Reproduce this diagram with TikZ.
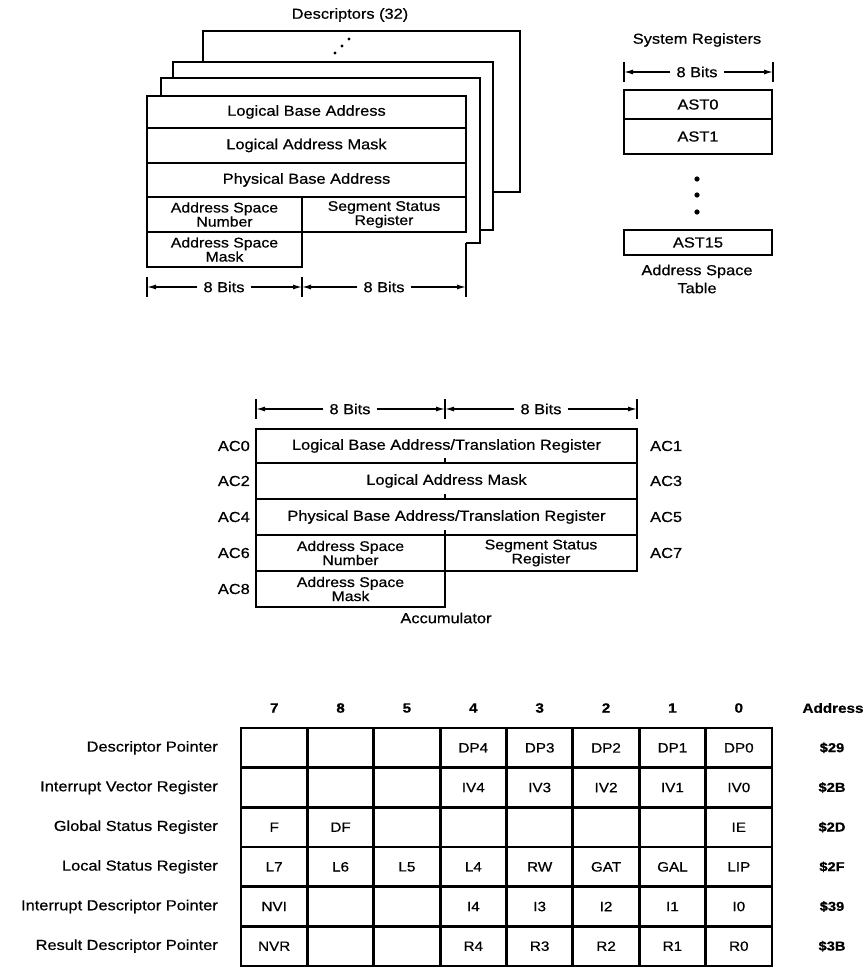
\documentclass[tikz,border=0pt]{standalone}
\usepackage{fontspec}
\setmainfont{Liberation Sans}[FakeStretch=1.13,FakeBold=0.6]
\usetikzlibrary{arrows.meta}
\newcommand\mylbl{\fontsize{14.5pt}{14pt}\selectfont}
\newcommand\mytwo{\fontsize{14pt}{12.5pt}\selectfont}
\newcommand\mycell{\fontsize{13.5pt}{14pt}\selectfont}
\newcommand\myhead{\fontsize{13.5pt}{14pt}\selectfont\bfseries}
\newcommand\myaddr{\fontsize{13pt}{14pt}\selectfont\bfseries}
\newcommand\tabrow[4]{%
  \node[rowlbl, anchor=east] (lbl#1) at (218,{728+39.67*(#1+0.5)}) {#2};
  \node[addr] (adr#1) at (832,{728+39.67*(#1+0.5)}) {#3};
  \foreach \t [count=\c from 0] in {#4} {
    \node[cell] (c#1-\c) at ({241+66.375*(\c+0.5)},{728+39.67*(#1+0.5)}) {\t};
  }%
}
\begin{document}
\begin{tikzpicture}[x=1pt,y=-1pt,
  box/.style={draw, line width=2.4pt, line join=miter},
  rbox/.style={draw, line width=2.4pt, inner sep=0pt, font=\mylbl, align=center},
  tbox/.style={draw, line width=2.4pt, inner sep=0pt, font=\mytwo, align=center},
  txt/.style={inner sep=0pt, font=\mylbl, align=center},
  dimtxt/.style={inner xsep=6pt, inner ysep=0pt, font=\mylbl},
  dimarrow/.style={line width=1.3pt, -{Latex[length=9pt,width=5pt]}},
  dimtick/.style={line width=1.6pt},
  cell/.style={draw, line width=2.8pt, minimum width=66.4pt, minimum height=39.7pt, inner sep=0pt, font=\mycell},
  rowlbl/.style={inner sep=0pt, font=\mylbl},
  addr/.style={inner sep=0pt, font=\myaddr},
  hd/.style={inner sep=0pt, font=\myhead},
]
\useasboundingbox (0,0) rectangle (865,968);

% ---------------- Descriptors stack ----------------
\node[txt] (desctitle) at (350,15) {Descriptors (32)};
\draw[box] (203,62) -- (203,31) -- (520,31) -- (520,192) -- (493,192);
\draw[box] (173,78) -- (173,62) -- (493,62) -- (493,230) -- (480,230);
\draw[box] (161,96) -- (161,78) -- (480,78) -- (480,243) -- (466,243);
\fill (335,53) circle (1.6) (342,46) circle (1.6) (349,39) circle (1.6);

\node[rbox, minimum width=319pt, minimum height=32pt] (lba) at (306.5,112) {Logical Base Address};
\node[rbox, minimum width=319pt, minimum height=35pt] (lam) at (306.5,145.5) {Logical Address Mask};
\node[rbox, minimum width=319pt, minimum height=34pt] (pba) at (306.5,180) {Physical Base Address};
\node[tbox, minimum width=155pt, minimum height=35pt] (asn) at (224.5,214.5) {Address Space\\Number};
\node[tbox, minimum width=164pt, minimum height=35pt] (ssr) at (384,214.5) {Segment Status\\Register};
\node[tbox, minimum width=155pt, minimum height=35pt] (asm) at (224.5,249.5) {Address Space\\Mask};

\coordinate (dA) at (147,287);
\coordinate (dB) at (302,287);
\coordinate (dC) at (466,287);
\draw[dimtick] (147,277) -- (147,297);
\draw[dimtick] (302,277) -- (302,297);
\draw[dimtick] (466,243) -- (466,297);
\node[dimtxt] (db1) at (224,287) {8 Bits};
\node[dimtxt] (db2) at (384,287) {8 Bits};
\draw[dimarrow] (db1) -- (dA);
\draw[dimarrow] (db1) -- (dB);
\draw[dimarrow] (db2) -- (dB);
\draw[dimarrow] (db2) -- (dC);

% ---------------- System registers ----------------
\node[txt] (systitle) at (697,40) {System Registers};
\coordinate (sA) at (624,72);
\coordinate (sB) at (773,72);
\draw[dimtick] (624,62) -- (624,82);
\draw[dimtick] (773,62) -- (773,82);
\node[dimtxt] (sb) at (697,72) {8 Bits};
\draw[dimarrow] (sb) -- (sA);
\draw[dimarrow] (sb) -- (sB);
\node[rbox, minimum width=148pt, minimum height=29pt] (ast0) at (698,104.5) {AST0};
\node[rbox, minimum width=148pt, minimum height=35pt] (ast1) at (698,136.5) {AST1};
\fill (697,179) circle (2.6) (697,195) circle (2.6) (697,212) circle (2.6);
\node[rbox, minimum width=148pt, minimum height=25pt] (ast15) at (698,242.5) {AST15};
\node[txt, font=\fontsize{14.5pt}{18pt}\selectfont] (astcap) at (697,279) {Address Space\\Table};

% ---------------- Accumulator ----------------
\coordinate (aA) at (256,409);
\coordinate (aB) at (445,409);
\coordinate (aC) at (637,409);
\draw[dimtick] (256,399) -- (256,419);
\draw[dimtick] (445,399) -- (445,419);
\draw[dimtick] (637,399) -- (637,419);
\node[dimtxt] (ab1) at (350,409) {8 Bits};
\node[dimtxt] (ab2) at (541,409) {8 Bits};
\draw[dimarrow] (ab1) -- (aA);
\draw[dimarrow] (ab1) -- (aB);
\draw[dimarrow] (ab2) -- (aB);
\draw[dimarrow] (ab2) -- (aC);

\node[rbox, minimum width=381pt, minimum height=34pt] (ac01) at (446.5,446) {Logical Base Address/Translation Register};
\node[rbox, minimum width=381pt, minimum height=36pt] (ac23) at (446.5,481) {Logical Address Mask};
\node[rbox, minimum width=381pt, minimum height=36pt] (ac45) at (446.5,517) {Physical Base Address/Translation Register};
\node[tbox, minimum width=189pt, minimum height=36pt] (ac6) at (350.5,553) {Address Space\\Number};
\node[tbox, minimum width=192pt, minimum height=36pt] (ac7) at (541,553) {Segment Status\\Register};
\node[tbox, minimum width=189pt, minimum height=36pt] (ac8) at (350.5,589) {Address Space\\Mask};
\draw[line width=1.8pt] (445,458) -- (445,463) (445,494) -- (445,499) (445,530) -- (445,535);

\node[rowlbl, anchor=east] (lac0) at (250,446) {AC0};
\node[rowlbl, anchor=east] (lac2) at (250,481) {AC2};
\node[rowlbl, anchor=east] (lac4) at (250,517) {AC4};
\node[rowlbl, anchor=east] (lac6) at (250,553) {AC6};
\node[rowlbl, anchor=east] (lac8) at (250,589) {AC8};
\node[rowlbl, anchor=west] (lac1) at (650,446) {AC1};
\node[rowlbl, anchor=west] (lac3) at (650,481) {AC3};
\node[rowlbl, anchor=west] (lac5) at (650,517) {AC5};
\node[rowlbl, anchor=west] (lac7) at (650,553) {AC7};
\node[txt] (acccap) at (446,618) {Accumulator};

% ---------------- Register table ----------------
\foreach \h [count=\c from 0] in {7,8,5,4,3,2,1,0} {
  \node[hd] (h\c) at ({241+66.375*(\c+0.5)},708) {\h};
}
\node[hd] (haddr) at (833,708) {Address};
\tabrow{0}{Descriptor Pointer}{\$29}{{},{},{},DP4,DP3,DP2,DP1,DP0}
\tabrow{1}{Interrupt Vector Register}{\$2B}{{},{},{},IV4,IV3,IV2,IV1,IV0}
\tabrow{2}{Global Status Register}{\$2D}{F,DF,{},{},{},{},{},IE}
\tabrow{3}{Local Status Register}{\$2F}{L7,L6,L5,L4,RW,GAT,GAL,LIP}
\tabrow{4}{Interrupt Descriptor Pointer}{\$39}{NVI,{},{},I4,I3,I2,I1,I0}
\tabrow{5}{Result Descriptor Pointer}{\$3B}{NVR,{},{},R4,R3,R2,R1,R0}
\end{tikzpicture}
\end{document}
